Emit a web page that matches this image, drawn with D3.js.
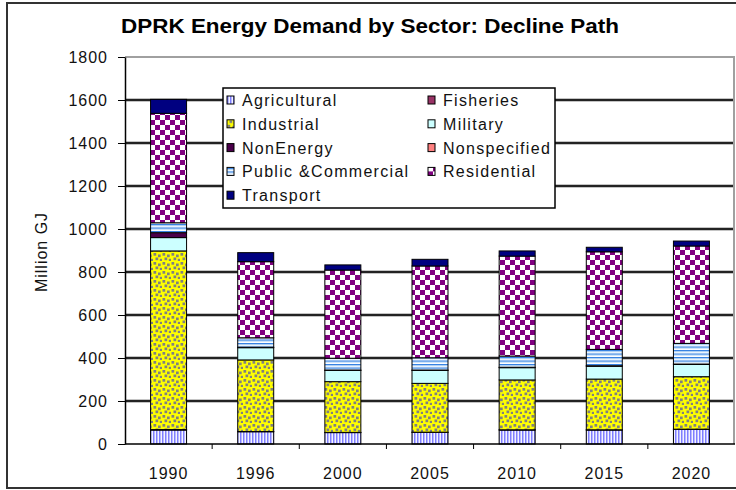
<!DOCTYPE html>
<html>
<head>
<meta charset="utf-8">
<script src="https://cdn.jsdelivr.net/npm/d3@7"></script>
<style>
  body { margin: 0; background: #fff; }
  svg { display: block; font-family: "Liberation Sans", Arial, sans-serif; }
</style>
</head>
<body>
<div id="chart"></div>
<script>
var years = ["1990", "1996", "2000", "2005", "2010", "2015", "2020"];
var sectors = ["Agricultural", "Fisheries", "Industrial", "Military", "NonEnergy",
               "Nonspecified", "Public &Commercial", "Residential", "Transport"];
var agricultural     = [65, 57, 53, 54, 65, 65, 68];
var fisheries        = [2, 1, 1, 1, 1, 1, 1];
var industrial       = [831, 333, 236, 227, 232, 236, 244];
var military         = [62, 57, 52, 60, 57, 60, 57];
var nonEnergy        = [23, 2, 2, 2, 2, 2, 2];
var nonspecified     = [0, 0, 0, 0, 0, 0, 0];
var publicCommercial = [46, 44, 55, 57, 52, 76, 96];
var residential      = [509, 354, 410, 427, 465, 454, 453];
var transport        = [65, 42, 24, 31, 24, 21, 23];
var yTicks = [0, 200, 400, 600, 800, 1000, 1200, 1400, 1600, 1800];

var series = [agricultural, fisheries, industrial, military, nonEnergy,
              nonspecified, publicCommercial, residential, transport];
var fills = ["url(#pAgri)", "#993366", "url(#pInd)", "#ccffff", "#4a004a",
             "#ff8080", "url(#pPub)", "url(#pRes)", "#000080"];

var rows = years.map(function (y, i) {
  var r = { year: y };
  sectors.forEach(function (s, k) { r[s] = series[k][i]; });
  return r;
});

var width = 736, height = 490;
var svg = d3.select("#chart").append("svg")
    .attr("width", width)
    .attr("height", height);

// patterns
var defs = svg.append("defs");
var p = defs.append("pattern").attr("id", "pAgri").attr("patternUnits", "userSpaceOnUse")
    .attr("width", 3).attr("height", 10);
p.append("rect").attr("width", 3).attr("height", 10).attr("fill", "#f4f4ff");
p.append("rect").attr("width", 1.5).attr("height", 10).attr("fill", "#7f7fff");

p = defs.append("pattern").attr("id", "pInd").attr("patternUnits", "userSpaceOnUse")
    .attr("width", 9).attr("height", 9);
p.append("rect").attr("width", 9).attr("height", 9).attr("fill", "#ffff00");
[[0.5, 1], [5, 2.5], [2.5, 5.5], [6.8, 6.8]].forEach(function (d) {
  p.append("rect").attr("x", d[0]).attr("y", d[1]).attr("width", 2.7).attr("height", 2.7)
    .attr("fill", "#808080");
});

p = defs.append("pattern").attr("id", "pPub").attr("patternUnits", "userSpaceOnUse")
    .attr("width", 10).attr("height", 3.5);
p.append("rect").attr("width", 10).attr("height", 3.5).attr("fill", "#fff");
p.append("rect").attr("width", 10).attr("height", 1.3).attr("fill", "#2f7de1");
p.append("rect").attr("y", 1.3).attr("width", 10).attr("height", 0.8).attr("fill", "#a8d0f5");

p = defs.append("pattern").attr("id", "pRes").attr("patternUnits", "userSpaceOnUse")
    .attr("width", 10).attr("height", 10);
p.append("rect").attr("width", 10).attr("height", 10).attr("fill", "#fff");
p.append("rect").attr("width", 5).attr("height", 5).attr("fill", "#800080");
p.append("rect").attr("x", 5).attr("y", 5).attr("width", 5).attr("height", 5).attr("fill", "#800080");

// outer frame
svg.append("rect")
    .attr("x", 7).attr("y", 3).attr("width", 740).attr("height", 485)
    .attr("fill", "none").attr("stroke", "#333").attr("stroke-width", 2);

var plotLeft = 125, plotRight = 735, plotTop = 57, plotBottom = 444;

var x = d3.scaleBand().domain(years).range([plotLeft, plotRight])
    .paddingInner(0.587).paddingOuter(0.2935);
var xStep = d3.scaleBand().domain(years).range([plotLeft, plotRight]);
var y = d3.scaleLinear().domain([0, 1800]).range([plotBottom, plotTop]);

// gridlines
var inner = yTicks.filter(function (d) { return d > 0 && d < 1800; });
var grid = svg.append("g");
grid.selectAll("line.halo")
  .data(inner)
  .enter().append("line").attr("class", "halo")
    .attr("x1", plotLeft).attr("x2", plotRight)
    .attr("y1", function (d) { return y(d); }).attr("y2", function (d) { return y(d); })
    .attr("stroke", "#8a8a8a").attr("stroke-width", 3);
grid.selectAll("line.core")
  .data(inner)
  .enter().append("line").attr("class", "core")
    .attr("x1", plotLeft).attr("x2", plotRight)
    .attr("y1", function (d) { return y(d); }).attr("y2", function (d) { return y(d); })
    .attr("stroke", "#000").attr("stroke-width", 1.4);

// plot border top/right (gray)
svg.append("line").attr("x1", plotLeft).attr("x2", plotRight).attr("y1", y(1800)).attr("y2", y(1800))
    .attr("stroke", "#a0a0a0").attr("stroke-width", 2);
svg.append("line").attr("x1", plotRight - 1).attr("x2", plotRight - 1).attr("y1", y(1800)).attr("y2", plotBottom)
    .attr("stroke", "#a0a0a0").attr("stroke-width", 2);

// bars
var stack = d3.stack().keys(sectors);
var layers = stack(rows);

svg.append("g").selectAll("g")
  .data(layers)
  .enter().append("g")
    .attr("fill", function (d, i) { return fills[i]; })
  .selectAll("rect")
  .data(function (d) { return d.filter(function (s) { return s[1] - s[0] > 0; }); })
  .enter().append("rect")
    .attr("x", function (d) { return x(d.data.year); })
    .attr("width", x.bandwidth())
    .attr("y", function (d) { return y(d[1]); })
    .attr("height", function (d) { return y(d[0]) - y(d[1]); })
    .attr("stroke", "#000")
    .attr("stroke-width", 1);

// y axis
var yAxis = svg.append("g")
    .attr("transform", "translate(" + plotLeft + ",0)")
    .call(d3.axisLeft(y).tickValues(yTicks).tickFormat(d3.format("d"))
      .tickSize(7).tickPadding(10).tickSizeOuter(0));
yAxis.select(".domain").attr("stroke", "#000").attr("stroke-width", 1.5);
yAxis.selectAll(".tick line").attr("stroke", "#000");
yAxis.selectAll("text")
    .style("font-size", "16px").style("letter-spacing", "1px")
    .attr("fill", "#111");

// x axis with ticks between categories
var xAxis = svg.append("g").attr("transform", "translate(0," + plotBottom + ")");
xAxis.append("line").attr("x1", plotLeft).attr("x2", plotRight).attr("stroke", "#000").attr("stroke-width", 1.5);
xAxis.selectAll("line.tk")
  .data(years.slice(1))
  .enter().append("line").attr("class", "tk")
    .attr("x1", function (d) { return xStep(d); }).attr("x2", function (d) { return xStep(d); })
    .attr("y1", 0).attr("y2", 5)
    .attr("stroke", "#000");
xAxis.selectAll("text")
  .data(years)
  .enter().append("text")
    .attr("x", function (d) { return x(d) + x.bandwidth() / 2; })
    .attr("y", 35)
    .attr("text-anchor", "middle")
    .style("font-size", "16px").style("letter-spacing", "1px")
    .attr("fill", "#111")
    .text(function (d) { return d; });

// axis title
svg.append("text")
    .attr("transform", "translate(47,252) rotate(-90)")
    .attr("text-anchor", "middle")
    .style("font-size", "16px").style("letter-spacing", "1px")
    .attr("fill", "#111")
    .text("Million GJ");

// title
svg.append("text")
    .attr("x", 370).attr("y", 33)
    .attr("text-anchor", "middle")
    .attr("textLength", 498).attr("lengthAdjust", "spacingAndGlyphs")
    .style("font-size", "20px").style("font-weight", "bold")
    .attr("fill", "#000")
    .text("DPRK  Energy Demand by Sector: Decline Path");

// legend
var legend = svg.append("g");
legend.append("rect")
    .attr("x", 223).attr("y", 88).attr("width", 332).attr("height", 120)
    .attr("fill", "#fff").attr("stroke", "#000").attr("stroke-width", 1.5);

var item = legend.selectAll("g.item")
  .data(sectors)
  .enter().append("g").attr("class", "item")
    .attr("transform", function (d, i) {
      var col = i % 2, row = Math.floor(i / 2);
      return "translate(" + (col ? 428 : 227) + "," + (100 + row * 23.8) + ")";
    });
item.append("rect")
    .attr("x", 0).attr("y", -4).attr("width", 7).attr("height", 8)
    .attr("fill", function (d, i) { return fills[i]; })
    .attr("stroke", "#000").attr("stroke-width", 1);
item.append("text")
    .attr("x", 15).attr("y", 6)
    .style("font-size", "16px").style("letter-spacing", "1.3px")
    .attr("fill", "#111")
    .text(function (d) { return d; });
</script>
</body>
</html>
